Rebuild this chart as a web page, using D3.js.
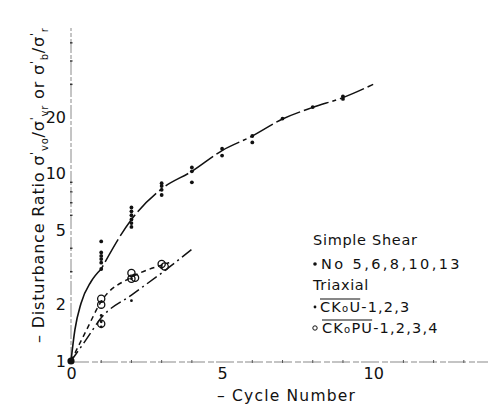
<!DOCTYPE html>
<html>
<head>
<meta charset="utf-8">
<script src="https://cdn.jsdelivr.net/npm/d3@7"></script>
<style>
  body { margin: 0; background: #fff; }
  svg { display: block; }
  text { font-family: "DejaVu Sans", sans-serif; fill: #111; }
</style>
</head>
<body>
<svg id="chart" width="493" height="408"></svg>
<script>
// Simple shear tests (No 5, 6, 8, 10, 13): measured disturbance ratios
const shearCycles = [0, 1, 1, 1, 1, 1, 1, 2, 2, 2, 2, 2, 2, 3, 3, 3, 3, 4, 4, 4, 5, 5, 6, 6, 7, 8, 9, 9];
const shearRatios = [1, 4.35, 3.8, 3.64, 3.5, 3.35, 3.1, 6.6, 6.3, 6.0, 5.7, 5.45, 5.2, 8.9, 8.6, 8.2, 7.7, 10.8, 10.3, 9.0, 13.6, 12.5, 15.9, 14.7, 19.7, 22.7, 25.9, 25.1];
// Simple shear trend curve
const shearCurveCycles = [0, 0.13, 0.33, 0.66, 1, 2, 3, 4, 5, 6, 7, 8, 9, 10];
const shearCurveRatios = [1, 1.47, 2.03, 2.65, 3.1, 5.7, 8.3, 10.3, 13.3, 15.9, 19.6, 22.6, 25.5, 30];

// Triaxial CK0U-1,2,3
const ckuCycles = [1, 1, 1, 2, 2, 3];
const ckuRatios = [1.52, 1.62, 1.75, 2.1, 2.75, 3.15];
const ckuCurveCycles = [0, 0.5, 1, 2, 3, 4];
const ckuCurveRatios = [1, 1.3, 1.7, 2.25, 2.95, 3.95];

// Triaxial CK0PU-1,2,3,4
const ckpuCycles = [1, 1, 1, 2, 2, 2.12, 3, 3.1];
const ckpuRatios = [2.0, 2.15, 1.58, 2.95, 2.75, 2.78, 3.3, 3.2];
const ckpuCurveCycles = [0, 0.5, 1, 2, 3, 3.25];
const ckpuCurveRatios = [1, 1.45, 2.08, 2.8, 3.25, 3.35];

// Axis ticks
const yTickValues = [1, 2, 5, 10, 20];
const yMinorTicks = [3, 4, 6, 7, 8, 9, 30, 40, 50];
const xTickValues = [0, 5, 10];
const xMinorTicks = [1, 2, 3, 4, 6, 7, 8, 9, 11, 12, 13];

const svg = d3.select("#chart");

const x = d3.scaleLinear().domain([0, 13.8]).range([71, 488]);
const y = d3.scaleLog().domain([1, 60]).range([361, 28]);

const zip = (xs, ys) => xs.map((c, i) => [c, ys[i]]);

// ---- axes ----
const axisColor = "#8a8a8a";
svg.append("line")
  .attr("x1", x(0)).attr("x2", x(0))
  .attr("y1", y(1)).attr("y2", y(60))
  .attr("stroke", axisColor).attr("stroke-width", 1)
  .attr("stroke-dasharray", "14,2,4,2");
svg.append("line")
  .attr("x1", x(0)).attr("x2", x(13.8))
  .attr("y1", y(1) + 1).attr("y2", y(1) + 1)
  .attr("stroke", axisColor).attr("stroke-width", 1.2)
  .attr("stroke-dasharray", "18,3,6,2");

// minor ticks
svg.append("g").selectAll("line")
  .data(yMinorTicks).join("line")
  .attr("x1", x(0) - 1).attr("x2", x(0) + 1.5)
  .attr("y1", d => y(d)).attr("y2", d => y(d))
  .attr("stroke", "#333").attr("stroke-width", 1.4);
svg.append("g").selectAll("line")
  .data(xMinorTicks).join("line")
  .attr("x1", d => x(d)).attr("x2", d => x(d))
  .attr("y1", y(1) - 1).attr("y2", y(1) + 2)
  .attr("stroke", "#555").attr("stroke-width", 1);

const yAxis = svg.append("g")
  .attr("transform", `translate(${x(0)},0)`)
  .call(d3.axisLeft(y).tickValues(yTickValues).tickFormat(d3.format("d")).tickSize(0).tickPadding(5));
yAxis.select(".domain").remove();
yAxis.selectAll("text").attr("font-size", 16).attr("font-family", "DejaVu Sans").attr("fill", "#111");

const xAxis = svg.append("g")
  .attr("transform", `translate(0,${y(1)})`)
  .call(d3.axisBottom(x).tickValues(xTickValues).tickFormat(d3.format("d")).tickSize(0).tickPadding(7));
xAxis.select(".domain").remove();
xAxis.selectAll("text").attr("font-size", 16).attr("font-family", "DejaVu Sans").attr("fill", "#111");

// axis titles
svg.append("text")
  .attr("x", 217).attr("y", 401)
  .attr("font-size", 15.5).attr("letter-spacing", 1.2)
  .text("– Cycle Number");

const yTitle = svg.append("text")
  .attr("transform", "translate(44,343) rotate(-90)")
  .attr("font-size", 16).attr("letter-spacing", 0.8);
yTitle.append("tspan").text("– Disturbance Ratio σ");
yTitle.append("tspan").attr("font-size", 11).attr("dy", -6).text("'");
yTitle.append("tspan").attr("font-size", 10).attr("dy", 10).text("vo");
yTitle.append("tspan").attr("dy", -4).text("/σ");
yTitle.append("tspan").attr("font-size", 11).attr("dy", -6).text("'");
yTitle.append("tspan").attr("font-size", 10).attr("dy", 10).text("vr");
yTitle.append("tspan").attr("dy", -4).text(" or σ");
yTitle.append("tspan").attr("font-size", 11).attr("dy", -6).text("'");
yTitle.append("tspan").attr("font-size", 10).attr("dy", 10).text("b");
yTitle.append("tspan").attr("dy", -4).text("/σ");
yTitle.append("tspan").attr("font-size", 11).attr("dy", -6).text("'");
yTitle.append("tspan").attr("font-size", 10).attr("dy", 10).text("r");

// ---- curves ----
const line = d3.line().x(d => x(d[0])).y(d => y(d[1])).curve(d3.curveMonotoneX);

const shearCurve = zip(shearCurveCycles, shearCurveRatios);
svg.append("path")
  .datum(shearCurve.filter(d => d[0] <= 1))
  .attr("d", line).attr("fill", "none")
  .attr("stroke", "#111").attr("stroke-width", 1.6);
svg.append("path")
  .datum(shearCurve.filter(d => d[0] >= 1))
  .attr("d", line).attr("fill", "none")
  .attr("stroke", "#111").attr("stroke-width", 1.5)
  .attr("stroke-dasharray", "4,4,26,4,26,4,26,4");

svg.append("path")
  .datum(zip(ckpuCurveCycles, ckpuCurveRatios))
  .attr("d", line).attr("fill", "none")
  .attr("stroke", "#111").attr("stroke-width", 1.5)
  .attr("stroke-dasharray", "5,4");

svg.append("path")
  .datum(zip(ckuCurveCycles, ckuCurveRatios))
  .attr("d", line).attr("fill", "none")
  .attr("stroke", "#111").attr("stroke-width", 1.5)
  .attr("stroke-dasharray", "12,4,2,4");

// ---- points ----
svg.append("g").selectAll("circle")
  .data(zip(shearCycles, shearRatios).filter(d => d[0] > 0)).join("circle")
  .attr("cx", d => x(d[0])).attr("cy", d => y(d[1]))
  .attr("r", 1.9).attr("fill", "#111");

svg.append("g").selectAll("circle")
  .data(zip(ckuCycles, ckuRatios)).join("circle")
  .attr("cx", d => x(d[0])).attr("cy", d => y(d[1]))
  .attr("r", 1.4).attr("fill", "#111");

svg.append("g").selectAll("circle")
  .data(zip(ckpuCycles, ckpuRatios)).join("circle")
  .attr("cx", d => x(d[0])).attr("cy", d => y(d[1]))
  .attr("r", 3.6).attr("fill", "none")
  .attr("stroke", "#111").attr("stroke-width", 1.3);

// origin
svg.append("circle")
  .attr("cx", x(0)).attr("cy", y(1)).attr("r", 3.6).attr("fill", "#111");

// ---- legend ----
const lg = svg.append("g").attr("font-size", 14.5);
lg.append("text").attr("x", 313).attr("y", 245).attr("letter-spacing", 0.7).text("Simple Shear");

lg.append("circle").attr("cx", 315).attr("cy", 264).attr("r", 1.8).attr("fill", "#111");
lg.append("text").attr("x", 321).attr("y", 269).attr("letter-spacing", 2.4).text("No 5,6,8,10,13");

lg.append("text").attr("x", 313).attr("y", 290).attr("letter-spacing", 0.6).text("Triaxial");

// label with an overline across the test designation
function designation(xPos, yPos, main, rest) {
  const t = lg.append("text").attr("x", xPos).attr("y", yPos).attr("letter-spacing", 1.2);
  t.append("tspan").text(main[0]);
  t.append("tspan").attr("font-size", 10).text(main[1]);
  t.append("tspan").text(main[2]);
  const w = t.node().getComputedTextLength();
  t.append("tspan").text(rest);
  lg.append("line")
    .attr("x1", xPos).attr("x2", xPos + w - 1)
    .attr("y1", yPos - 13).attr("y2", yPos - 13)
    .attr("stroke", "#111").attr("stroke-width", 1.1);
}

lg.append("circle").attr("cx", 315).attr("cy", 307).attr("r", 1.4).attr("fill", "#111");
designation(320, 312, ["CK", "o", "U"], "-1,2,3");

lg.append("circle").attr("cx", 315).attr("cy", 328).attr("r", 2.2)
  .attr("fill", "none").attr("stroke", "#111").attr("stroke-width", 1);
designation(322, 333, ["CK", "o", "PU"], "-1,2,3,4");
</script>
</body>
</html>
